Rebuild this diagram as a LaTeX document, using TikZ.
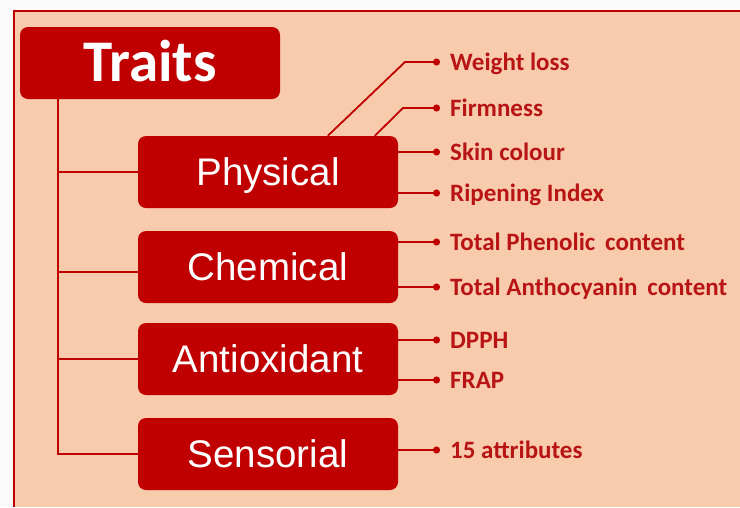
\documentclass[tikz,border=0pt]{standalone}
\usepackage{fontspec}
\setmainfont{Carlito}
\newfontfamily\arialfont{Liberation Sans}
\usetikzlibrary{arrows.meta,positioning}
\definecolor{TrRed}{HTML}{C00000}
\definecolor{TrText}{HTML}{B81414}
\definecolor{TrPeach}{HTML}{F8CBAD}
\definecolor{TrPaper}{HTML}{FAFAFA}

\begin{document}
\begin{tikzpicture}[x=1pt,y=-1pt,
  traitbox/.style={fill=TrRed,rounded corners=8pt,minimum width=260pt,minimum height=72pt,
               text=white,font=\arialfont\fontsize{38.5}{42}\selectfont,
               text height=27.5pt,text depth=0pt,inner sep=0pt},
  rootbox/.style={traitbox,font=\bfseries\fontsize{59}{62}\selectfont,text height=37pt},
  leaf/.style={anchor=west,text=TrText,font=\bfseries\fontsize{25}{29}\selectfont,
               text height=16pt,text depth=0pt,inner xsep=10pt,inner ysep=0pt},
  link/.style={draw=TrRed,line width=1.8pt},
  tip/.style={link,-{Circle[length=7pt]}}
]
\useasboundingbox (0,0) rectangle (740,507);
\fill[TrPaper] (0,0) rectangle (740,507);
\fill[TrPeach] (14,11) rectangle (740,507);
\draw[TrRed,line width=1.6pt] (740,11) -- (14,11) -- (14,507);
\node[rootbox] (traits) at (150,63) {Traits};
\node[traitbox] (phys) at (268,172) {Physical};
\node[traitbox] (chem) at (268,267) {Chemical};
\node[traitbox] (anti) at (268,359) {Antioxidant};
\node[traitbox] (sens) at (268,454) {Sensorial};
\node[leaf] (wl) at (440,62) {Weight loss};
\node[leaf] (fi) at (440,108) {Firmness};
\node[leaf] (sc) at (440,152) {Skin colour};
\node[leaf] (ri) at (440,193) {Ripening Index};
\node[leaf] (tp) at (440,242) {Total Phenolic\, content};
\node[leaf] (ta) at (440,287) {Total Anthocyanin\, content};
\node[leaf] (dp) at (440,340) {DPPH};
\node[leaf] (fr) at (440,380) {FRAP};
\node[leaf] (at) at (440,450) {15 attributes};
\coordinate (trunk) at ([xshift=38pt]traits.south west);
\draw[link] (trunk) |- (sens.west);
\foreach \b/\d in {phys/0,chem/-5,anti/0}{\draw[link] ([yshift=\d pt]trunk |- \b.west) -- ([yshift=\d pt]\b.west);}
\foreach \b/\l in {phys/sc,phys/ri,chem/tp,chem/ta,anti/dp,anti/fr,sens/at}{\draw[tip] (\b.east |- \l.west) -- (\l.west);}
\draw[tip] ([xshift=190pt]phys.north west) -- ([xshift=-35pt]wl.west) -- (wl.west);
\draw[tip] ([xshift=237pt]phys.north west) -- ([xshift=-37pt]fi.west) -- (fi.west);
\end{tikzpicture}
\end{document}
